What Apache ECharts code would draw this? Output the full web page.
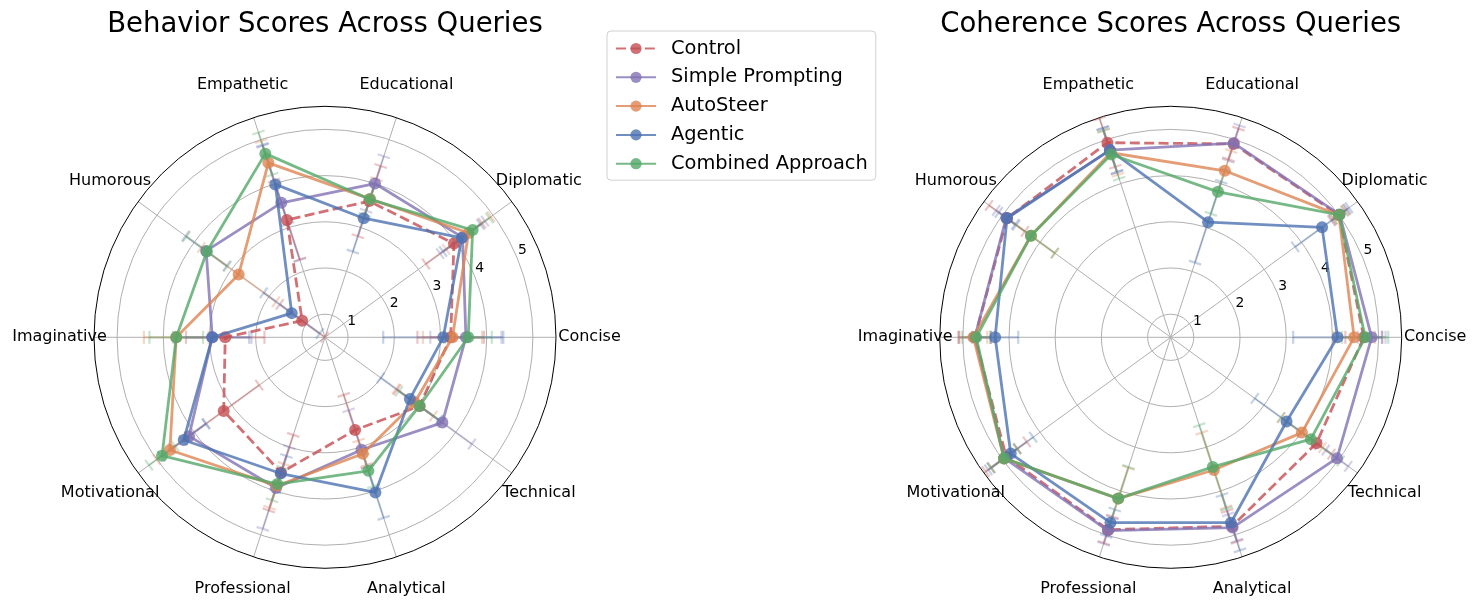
<!DOCTYPE html>
<html>
<head>
<meta charset="utf-8">
<title>Behavior and Coherence Scores Across Queries</title>
<script src="https://cdn.jsdelivr.net/npm/echarts@6/dist/echarts.min.js"></script>
<style>
html, body { margin: 0; padding: 0; background: #fff; }
#main { width: 1479px; height: 609px; }
</style>
</head>
<body>
<div id="main"></div>
<script>
var categories = ['Concise', 'Diplomatic', 'Educational', 'Empathetic', 'Humorous',
	'Imaginative', 'Motivational', 'Professional', 'Analytical', 'Technical'];
var seriesNames = ['Control', 'Simple Prompting', 'AutoSteer', 'Agentic', 'Combined Approach'];
var seriesColors = ['#c44e52', '#8172b3', '#dd8452', '#4c72b0', '#55a868'];
var radialTicks = [1, 2, 3, 4, 5];

// behavior scores (left chart)
var behaviorControl = [3.22, 3.95, 3.60, 3.17, 1.11, 2.66, 3.21, 3.58, 2.61, 3.03];
var behaviorSimple = [3.55, 4.18, 4.00, 3.56, 3.68, 2.94, 4.14, 3.93, 3.06, 3.64];
var behaviorAutoSteer = [3.26, 4.34, 3.65, 4.47, 2.81, 3.72, 4.65, 3.88, 3.15, 2.90];
var behaviorAgentic = [3.06, 4.16, 3.21, 3.98, 1.39, 2.94, 4.28, 3.60, 4.03, 2.77];
var behaviorCombined = [3.60, 4.45, 3.64, 4.68, 3.66, 3.72, 4.86, 3.84, 3.54, 3.03];

var behaviorControlErr = [0.72, 0.75, 0.80, 0.90, 0.60, 0.85, 0.95, 0.86, 0.80, 0.60];
var behaviorSimpleErr = [0.77, 0.60, 0.62, 1.30, 0.55, 0.85, 0.45, 0.93, 0.90, 0.79];
var behaviorAutoSteerErr = [0.64, 0.60, 0.45, 0.50, 1.00, 0.70, 0.35, 0.50, 0.30, 0.50];
var behaviorAgenticErr = [1.30, 0.50, 0.76, 0.90, 0.75, 0.80, 0.60, 0.40, 0.58, 0.78];
var behaviorCombinedErr = [0.51, 0.45, 0.35, 0.48, 0.55, 0.58, 0.35, 0.37, 0.35, 0.55];

// coherence scores (right chart)
var coherenceControl = [4.68, 5.00, 4.90, 4.93, 4.88, 4.74, 4.90, 4.88, 4.80, 4.40];
var coherenceSimple = [4.85, 5.02, 4.92, 4.76, 4.90, 4.74, 4.95, 4.90, 4.83, 4.95];
var coherenceAutoSteer = [4.47, 5.00, 4.29, 4.70, 4.24, 4.77, 4.96, 4.17, 3.52, 4.01];
var coherenceAgentic = [4.11, 4.55, 3.12, 4.76, 4.88, 4.30, 4.78, 4.72, 4.72, 3.60];
var coherenceCombined = [4.71, 5.01, 3.81, 4.66, 4.24, 4.71, 4.96, 4.17, 3.45, 4.25];

var coherenceControlErr = [0.40, 0.20, 0.35, 0.55, 0.48, 0.35, 0.55, 0.30, 0.35, 0.40];
var coherenceSimpleErr = [0.30, 0.20, 0.40, 0.50, 0.27, 0.35, 0.35, 0.30, 0.30, 0.30];
var coherenceAutoSteerErr = [0.45, 0.15, 0.45, 0.50, 0.64, 0.30, 0.35, 0.70, 0.85, 0.55];
var coherenceAgenticErr = [0.96, 0.72, 0.92, 0.50, 0.22, 0.50, 0.60, 0.30, 0.63, 0.85];
var coherenceCombinedErr = [0.50, 0.15, 0.50, 0.55, 0.64, 0.30, 0.35, 0.72, 0.95, 0.80];

var behaviorValues = [behaviorControl, behaviorSimple, behaviorAutoSteer, behaviorAgentic, behaviorCombined];
var behaviorErrors = [behaviorControlErr, behaviorSimpleErr, behaviorAutoSteerErr, behaviorAgenticErr, behaviorCombinedErr];
var coherenceValues = [coherenceControl, coherenceSimple, coherenceAutoSteer, coherenceAgentic, coherenceCombined];
var coherenceErrors = [coherenceControlErr, coherenceSimpleErr, coherenceAutoSteerErr, coherenceAgenticErr, coherenceCombinedErr];

var FONT = 'DejaVu Sans';
var GRID = '#b0b0b0';
var R_MIN = 0.5, R_MAX = 5.5;
var R = 231;
var centers = [[325, 337.3], [1170.7, 337.3]];
// category names sit centred 34px outside the outer ring
var labelRadius = R_MIN + (R + 34) / R * (R_MAX - R_MIN);

var myChart = echarts.init(document.getElementById('main'));

// radial error bar with caps perpendicular to the spoke
function errorBarItem(params, api) {
	var r = api.value(0), idx = api.value(1), e = api.value(2);
	var lo = api.coord([r - e, idx]);
	var hi = api.coord([r + e, idx]);
	var dx = hi[0] - lo[0], dy = hi[1] - lo[1];
	var len = Math.sqrt(dx * dx + dy * dy) || 1;
	var px = -dy / len * 6.5, py = dx / len * 6.5;
	var style = { stroke: api.visual('color'), lineWidth: 2.2, opacity: 0.32 };
	return {
		type: 'group',
		children: [
			{ type: 'line', shape: { x1: lo[0], y1: lo[1], x2: hi[0], y2: hi[1] }, style: style },
			{ type: 'line', shape: { x1: lo[0] - px, y1: lo[1] - py, x2: lo[0] + px, y2: lo[1] + py }, style: style },
			{ type: 'line', shape: { x1: hi[0] - px, y1: hi[1] - py, x2: hi[0] + px, y2: hi[1] + py }, style: style }
		]
	};
}

function buildSeries(polarIndex, values, errors) {
	var list = [];
	for (var i = 0; i < seriesNames.length; i++) {
		var errData = [];
		for (var k = 0; k < categories.length; k++) {
			errData.push([values[i][k], k, errors[i][k]]);
		}
		list.push({
			type: 'custom',
			name: seriesNames[i] + ' error',
			coordinateSystem: 'polar',
			polarIndex: polarIndex,
			renderItem: errorBarItem,
			itemStyle: { color: seriesColors[i] },
			data: errData,
			silent: true,
			z: 2
		});
	}
	for (var i = 0; i < seriesNames.length; i++) {
		var lineData = [];
		for (var k = 0; k < categories.length; k++) {
			lineData.push([values[i][k], categories[k]]);
		}
		// close the polygon
		lineData.push({ value: [values[i][0], categories[0]], symbol: 'none' });
		list.push({
			type: 'line',
			name: seriesNames[i],
			coordinateSystem: 'polar',
			polarIndex: polarIndex,
			data: lineData,
			symbol: 'circle',
			symbolSize: 12,
			color: seriesColors[i],
			lineStyle: {
				width: 2.8,
				type: i === 0 ? [10, 4.4] : 'solid',
				opacity: 0.8
			},
			itemStyle: { color: seriesColors[i], opacity: 0.8 },
			z: 3 + i
		});
	}
	// category names
	list.push({
		type: 'scatter',
		coordinateSystem: 'polar',
		polarIndex: polarIndex,
		silent: true,
		clip: false,
		symbolSize: 1,
		itemStyle: { color: '#fff', opacity: 0 },
		label: {
			show: true,
			position: [0, 0],
			align: 'center',
			verticalAlign: 'middle',
			formatter: '{b}',
			fontFamily: FONT,
			fontSize: 16,
			color: '#000',
			opacity: 1,
			textBorderWidth: 0
		},
		data: categories.map(function (c) { return { name: c, value: [labelRadius, c] }; }),
		z: 10
	});
	return list;
}

var option = {
	animation: false,
	backgroundColor: '#fff',
	title: [{
		text: 'Behavior Scores Across Queries',
		left: 325,
		top: 10.5,
		textAlign: 'center',
		padding: 0,
		textStyle: { fontFamily: FONT, fontSize: 27.5, fontWeight: 'normal', color: '#000' }
	}, {
		text: 'Coherence Scores Across Queries',
		left: 1170.7,
		top: 10.5,
		textAlign: 'center',
		padding: 0,
		textStyle: { fontFamily: FONT, fontSize: 27.5, fontWeight: 'normal', color: '#000' }
	}],
	legend: {
		data: seriesNames,
		orient: 'vertical',
		left: 607,
		top: 31,
		padding: [8, 8, 7, 8],
		itemWidth: 40,
		itemHeight: 14,
		itemGap: 9.8,
		borderColor: '#d0d0d0',
		borderWidth: 1,
		borderRadius: 4,
		backgroundColor: '#fff',
		textStyle: { fontFamily: FONT, fontSize: 19.4, color: '#000', padding: [0, 0, 0, 10] }
	},
	polar: [
		{ center: centers[0], radius: R },
		// shifted copy that only carries the radial tick labels
		{ center: [centers[0][0] + 11.6, centers[0][1] - 2.4], radius: R },
		{ center: centers[1], radius: R },
		{ center: [centers[1][0] + 11.6, centers[1][1] - 2.4], radius: R }
	],
	angleAxis: [],
	radiusAxis: [],
	series: []
};

for (var p = 0; p < 2; p++) {
	var dataPolar = p * 2, labelPolar = p * 2 + 1;
	option.angleAxis.push({
		polarIndex: dataPolar,
		type: 'category',
		data: categories,
		boundaryGap: true,
		startAngle: -18,
		clockwise: false,
		z: 1,
		axisLine: { show: true, lineStyle: { color: '#000', width: 1 } },
		axisTick: { show: false, alignWithLabel: true },
		axisLabel: { show: false },
		splitLine: { show: true, lineStyle: { color: GRID, width: 1 } }
	});
	option.radiusAxis.push({
		polarIndex: dataPolar,
		type: 'value',
		min: R_MIN,
		max: R_MAX,
		axisLine: { show: false },
		axisTick: { show: false, customValues: radialTicks },
		axisLabel: { show: false, customValues: radialTicks },
		splitLine: { show: true, lineStyle: { color: GRID, width: 1 } }
	});
	option.angleAxis.push({
		polarIndex: labelPolar,
		type: 'value',
		min: 0,
		max: 360,
		startAngle: 22.5,
		clockwise: false,
		show: false
	});
	option.radiusAxis.push({
		polarIndex: labelPolar,
		type: 'value',
		min: R_MIN,
		max: R_MAX,
		z: 5,
		axisLine: { show: false },
		axisTick: { show: false, customValues: radialTicks },
		splitLine: { show: false },
		axisLabel: {
			customValues: radialTicks,
			fontFamily: FONT,
			fontSize: 13.9,
			color: '#000',
			margin: 5,
			formatter: function (v) { return v % 1 === 0 && v >= 1 && v <= 5 ? String(v) : ''; }
		}
	});
}

option.series = buildSeries(0, behaviorValues, behaviorErrors)
	.concat(buildSeries(2, coherenceValues, coherenceErrors));

myChart.setOption(option);
</script>
</body>
</html>
